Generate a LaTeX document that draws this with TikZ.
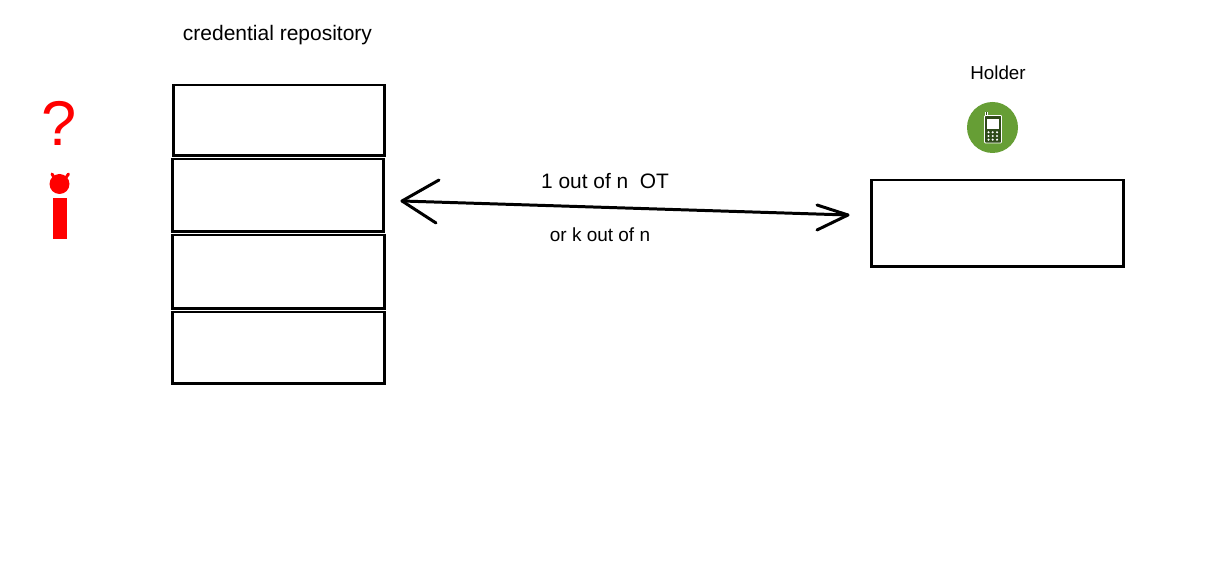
\documentclass[tikz,border=0pt]{standalone}
\usepackage{fontspec}
\setmainfont{Liberation Sans}
\definecolor{phonegreen}{HTML}{669E35}
\definecolor{phonedark}{HTML}{2F4A1A}
\tikzset{
	slot/.style={draw,line width=1.7pt,minimum width=#1,inner sep=0pt},
	label/.style={inner sep=0pt,font=\fontsize{#1}{#1}\selectfont},
	stroke/.style={line width=1.7pt,line cap=round,line join=round}
}
\begin{document}
\begin{tikzpicture}[x=0.02cm,y=-0.02cm]
	\useasboundingbox (0,0) rectangle (1225,577);
	% repository
	\node[slot=4.24cm,minimum height=1.42cm] (slotA) at (279,120.5) {};
	\node[slot=4.24cm,minimum height=1.46cm] (slotB) at (278,195.5) {};
	\node[slot=4.26cm,minimum height=1.48cm] (slotC) at (278.5,272) {};
	\node[slot=4.26cm,minimum height=1.44cm] (slotD) at (278.5,348) {};
	\node[label=11.95] (repo) at (277.5,35) {credential repository};
	% holder
	\node[slot=5.06cm,minimum height=1.74cm] (store) at (997.5,223.5) {};
	\node[label=10.7] (holder) at (998,73) {Holder};
	\fill[phonegreen] (992.5,127.5) circle (25.5);
	\draw[white,line width=2pt] (986.5,116) -- (986.5,112);
	\draw[phonedark,line width=0.8pt] (986.5,116) -- (986.5,112);
	\draw[white,fill=phonedark,line width=0.5pt,rounded corners=0.5pt] (984.5,115.5) rectangle (1001.5,143);
	\fill[white] (987,119) rectangle (998.5,129.5);
	\foreach \px in {988.5,992.7,997}
		\foreach \py in {132.3,136,139.7}
			\fill[white] (\px,\py) circle (1.2);
	% arrow
	\coordinate (left) at (402,201);
	\coordinate (right) at (848,215);
	\draw[stroke] (left) -- (right);
	\draw[stroke] (439,180) -- (left) -- (436,223);
	\draw[stroke] (817,205) -- (right) -- (817,230);
	\node[label=11.9] (ot) at (605,181) {1 out of n\ \ OT};
	\node[label=10.8] (kn) at (600,235) {or k out of n};
	% adversary
	\node[label=36,text=red] (ask) at (59,123) {?};
	\fill[red] (59.5,184) circle (10);
	\draw[red,line width=1.7pt,line cap=round] (52,174) -- (55,179);
	\draw[red,line width=1.7pt,line cap=round] (68.5,174) -- (65,179);
	\fill[red] (53.4,198.3) rectangle (66.7,239.5);
\end{tikzpicture}
\end{document}
